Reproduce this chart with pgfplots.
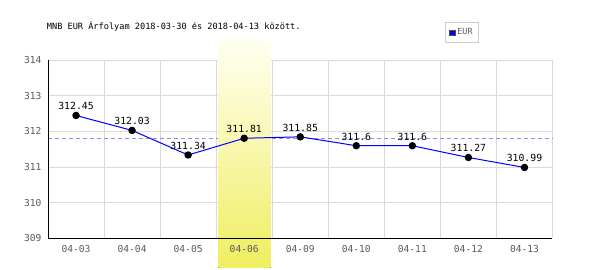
\documentclass[border=0pt]{standalone}
\usepackage{fontspec}
\usepackage{pgfplots}
\pgfplotsset{compat=1.18}
\newfontfamily\mono{DejaVu Sans Mono}
\definecolor{tickgray}{RGB}{90,90,90}
\definecolor{gridgray}{RGB}{218,218,218}
\definecolor{dashblue}{RGB}{140,140,255}
\definecolor{legendgray}{RGB}{205,205,205}
\definecolor{bandtop}{RGB}{255,255,242}
\definecolor{bandbot}{RGB}{240,238,96}
\pgfplotsset{
  layers/mine/.define layer set={axis background,axis grid,pre main,main,axis ticks,axis lines,axis tick labels,axis descriptions,axis foreground}{
    grid style={/pgfplots/on layer=axis grid},
    tick style={/pgfplots/on layer=axis ticks},
    axis line style={/pgfplots/on layer=axis lines},
    label style={/pgfplots/on layer=axis descriptions},
    legend style={/pgfplots/on layer=axis descriptions},
    title style={/pgfplots/on layer=axis descriptions},
    colorbar style={/pgfplots/on layer=axis descriptions},
    ticklabel style={/pgfplots/on layer=axis tick labels},
    axis background@ style={/pgfplots/on layer=axis background},
  },
}
\pgfplotstableread{
x y label
0 312.45 312.45
1 312.03 312.03
2 311.34 311.34
3 311.81 311.81
4 311.85 311.85
5 311.6 311.6
6 311.6 311.6
7 311.27 311.27
8 310.99 310.99
}\eurdata
\begin{document}
\begin{tikzpicture}
\node[anchor=base west, inner sep=0pt, font=\mono\fontsize{8.6}{10}\selectfont] at (46.7pt,240.5pt) {MNB EUR Árfolyam 2018-03-30 és 2018-04-13 között.};
\begin{axis}[
  set layers=mine,
  at={(48pt,31.7pt)}, anchor=south west,
  scale only axis, width=504.5pt, height=178pt,
  clip=false,
  xmin=-0.5, xmax=8.5, ymin=309, ymax=314,
  xtick={0,...,8},
  xticklabels={04-03,04-04,04-05,04-06,04-09,04-10,04-11,04-12,04-13},
  minor xtick={0.5,1.5,...,8.5},
  ytick={309,310,...,314},
  xminorgrids=true, ymajorgrids=true,
  grid style={gridgray, line width=0.9pt},
  minor grid style={gridgray, line width=0.9pt},
  axis lines*=left,
  axis line style={black, line width=1pt},
  major tick length=0pt, minor tick length=0pt,
  ticklabel style={font=\mono\fontsize{9.6}{10}\selectfont, text=tickgray},
  /pgf/number format/assume math mode=true,
  yticklabel style={anchor=east, xshift=-3pt},
  xticklabel style={anchor=base, yshift=-13.8pt},
  legend style={at={(axis description cs:0.787,1.213)}, anchor=north west,
    draw=legendgray, fill=white, line width=0.8pt,
    font=\mono\fontsize{8.4}{10}\selectfont, text=tickgray,
    inner xsep=4pt, inner ysep=4pt,
    cells={anchor=west}},
  legend image code/.code={\fill[blue,draw=black!70,line width=0.4pt] (0pt,-2.8pt) rectangle (5.6pt,2.8pt);},
]
\addplot[forget plot, dashblue, line width=0.8pt, dash pattern=on 4pt off 3pt] coordinates {(-0.5,311.81) (8.5,311.81)};
\fill[top color=bandtop, bottom color=bandbot] (axis cs:2.54,308.17) rectangle (axis cs:3.47,314.6);
\addplot[blue, line width=1pt, mark=*, mark size=3.2pt,
  mark options={black, fill=black, solid},
  nodes near coords, point meta=explicit symbolic,
  nodes near coords style={anchor=base, yshift=5.5pt, inner sep=0pt, font=\mono\fontsize{9.8}{10}\selectfont, text=black}]
  table[x=x, y=y, meta=label] {\eurdata};
\addlegendentry{EUR}
\end{axis}
\pgfresetboundingbox
\path[use as bounding box] (0pt,0pt) rectangle (600pt,270pt);
\end{tikzpicture}
\end{document}
